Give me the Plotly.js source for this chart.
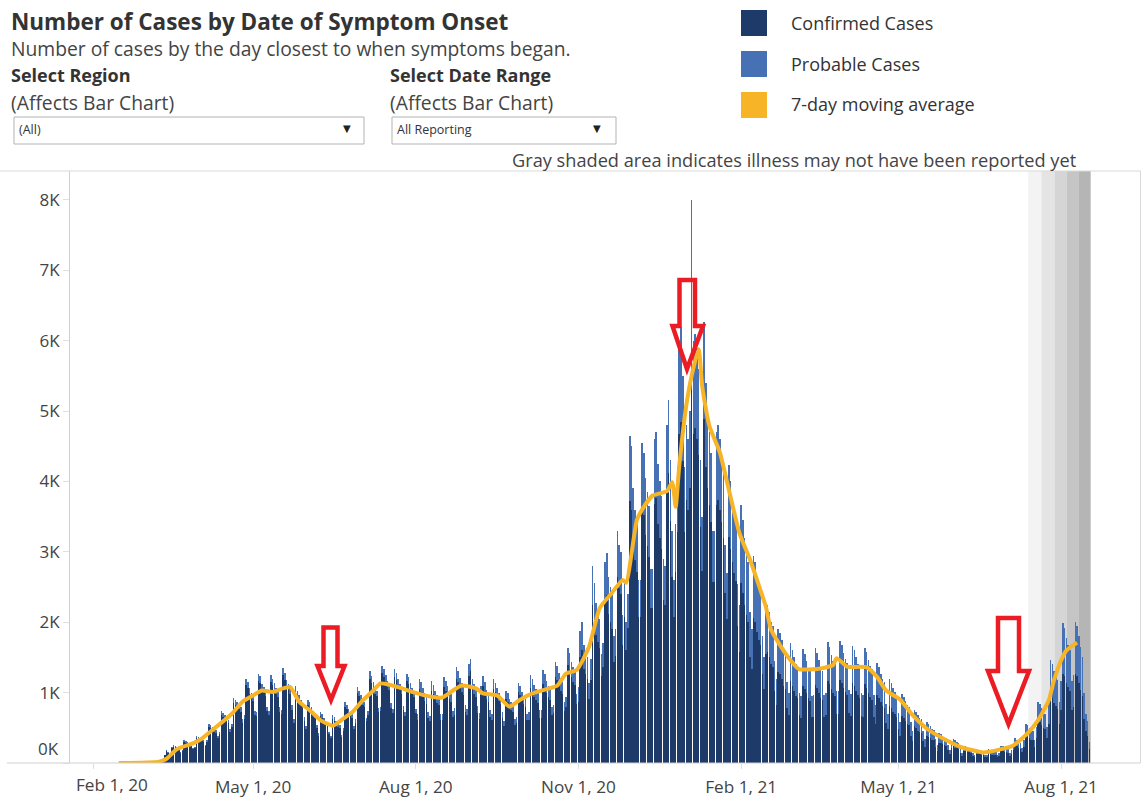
<!DOCTYPE html>
<html>
<head>
<meta charset="utf-8">
<script src="https://cdn.plot.ly/plotly-3.0.1.min.js"></script>
<style>html,body{margin:0;padding:0;background:#fff;}#chart{width:1143px;height:800px;}</style>
</head>
<body>
<div id="chart"></div>
<script>
// ---------------- DATA ----------------
// Daily series start on this date (one value per day, Sun..Sat per row)
const startDate = '2020-03-01';

const confirmed = [
  0,1,2,1,3,2,4,
  5,10,28,56,112,168,140,
  120,212,230,221,212,203,148,
  166,295,286,277,258,249,194,
  212,350,341,332,313,304,240,
  304,516,498,470,442,433,350,
  405,682,654,627,590,562,442,
  516,848,830,802,765,728,571,
  627,1106,1060,977,922,885,682,
  664,1162,1134,1033,996,950,738,
  682,1153,1106,1042,987,940,728,
  701,1245,1180,1088,1033,977,756,
  572,1014,940,885,830,784,599,
  479,830,793,738,682,645,498,
  387,664,636,590,553,526,406,
  350,627,599,553,516,498,369,
  461,793,765,710,664,636,479,
  572,996,950,885,830,793,590,
  682,1199,1143,1060,986,950,719,
  738,1272,1226,1153,1079,1033,784,
  710,1226,1180,1097,1033,987,747,
  673,1171,1125,1042,987,940,710,
  607,1056,1012,942,880,845,634,
  590,1021,977,906,854,818,616,
  616,1074,1030,959,906,862,651,
  686,1197,1144,1065,1003,959,722,
  678,1232,1302,1047,986,942,713,
  625,968,1091,1012,915,871,660,
  607,1047,1003,933,880,836,634,
  519,906,871,801,757,722,546,
  572,1003,959,889,836,801,607,
  612,1063,1020,944,893,850,646,
  646,1122,1071,995,935,893,680,
  706,1224,1173,1088,1029,978,740,
  799,1386,1326,1224,1156,1105,833,
  864,1504,1600,1336,1264,1200,904,
  1184,2240,2048,1824,1720,1640,1240,
  1368,2280,2384,2112,2000,1904,1440,
  1520,2640,2480,2400,1680,2080,1600,
  1920,3720,3600,3120,2880,2720,2080,
  2080,3640,3520,3240,3080,2920,2200,
  2200,3680,3760,3400,3200,3040,2320,
  2240,3840,4120,3440,2640,2080,2720,
  3280,4680,4840,4290,3280,3740,3590,
  3900,5300,4680,4760,4600,4370,3350,
  2730,4890,4210,3900,3670,3430,2570,
  2570,3670,3740,3590,3430,3200,2420,
  2050,3210,3040,2850,2700,2580,1940,
  1580,2560,2420,2240,2100,2000,1500,
  1330,2060,2000,1860,1750,1680,1260,
  1050,1550,1580,1500,1400,1370,1020,
  820,1290,1260,1190,1090,1050,780,
  680,1160,1090,1020,950,920,680,
  640,1100,1050,990,920,880,650,
  650,1110,1060,990,920,890,650,
  680,1170,1120,1050,990,950,690,
  690,1180,1140,1060,1010,970,710,
  670,1130,1090,1020,960,920,670,
  650,1120,1070,1000,940,900,660,
  560,970,920,860,810,780,570,
  480,810,780,730,690,660,480,
  390,670,640,600,560,540,390,
  310,520,500,460,440,420,310,
  230,390,370,350,330,320,230,
  170,290,280,270,250,240,180,
  130,210,240,220,210,200,140,
  100,170,165,155,150,140,100,
  80,135,135,125,115,115,80,
  80,140,130,120,115,110,80,
  100,175,165,155,150,140,100,
  130,180,250,235,220,205,150,
  230,390,380,350,330,320,230,
  350,600,580,540,500,480,350,
  560,950,920,850,810,770,560,
  750,1270,1230,1140,1080,1020,750,
  790,1260,1230,1130,1040,950,630,
  450,390,200
];

const probable = [
  0,0,0,0,0,0,0,
  0,0,2,4,8,12,10,
  10,18,20,19,18,17,12,
  14,25,24,23,22,21,16,
  18,30,29,28,27,26,20,
  26,44,42,40,38,37,30,
  35,58,56,53,50,48,38,
  44,72,70,68,65,62,49,
  53,94,90,83,78,75,58,
  56,98,96,87,84,80,62,
  58,97,94,88,83,80,62,
  59,105,100,92,87,83,64,
  48,86,80,75,70,66,51,
  41,70,67,62,58,55,42,
  33,56,54,50,47,44,34,
  30,53,51,47,44,42,31,
  39,67,65,60,56,54,41,
  48,84,80,75,70,67,50,
  58,101,97,90,84,80,61,
  62,108,104,97,91,87,66,
  60,104,100,93,87,83,63,
  57,99,95,88,83,80,60,
  83,144,138,128,120,115,86,
  80,139,133,124,116,112,84,
  84,146,140,131,124,118,89,
  94,163,156,145,137,131,98,
  92,168,178,143,134,128,97,
  85,132,149,138,125,119,90,
  83,143,137,127,120,114,86,
  71,124,119,109,103,98,74,
  78,137,131,121,114,109,83,
  108,187,180,166,157,150,114,
  114,198,189,175,165,157,120,
  124,216,207,192,181,172,130,
  141,244,234,216,204,195,147,
  216,376,400,334,316,300,226,
  296,560,512,456,430,410,310,
  342,570,596,528,500,476,360,
  380,660,620,600,420,520,400,
  480,930,900,780,720,680,520,
  520,910,880,810,770,730,550,
  550,920,940,850,800,760,580,
  560,960,1030,860,660,520,680,
  920,1320,1360,1210,920,1060,1010,
  1100,2700,1320,1340,1300,1230,950,
  770,1380,1190,1100,1030,970,730,
  730,1030,1060,1010,970,900,680,
  650,1020,960,900,850,820,610,
  670,1100,1030,960,900,850,650,
  570,880,850,790,750,720,540,
  450,670,670,650,600,580,430,
  380,610,590,560,510,500,370,
  320,540,510,480,450,430,320,
  310,520,500,460,430,420,300,
  310,530,500,470,440,420,310,
  320,550,530,490,460,450,330,
  330,560,540,500,470,450,330,
  310,530,510,480,450,440,320,
  310,520,500,470,440,430,310,
  270,450,440,410,380,370,270,
  220,380,360,340,320,310,230,
  190,310,300,280,270,260,190,
  140,240,230,220,200,200,140,
  110,190,180,170,160,150,110,
  80,140,130,120,110,110,80,
  60,90,100,100,90,80,60,
  45,75,70,65,60,60,45,
  35,60,55,50,50,45,35,
  35,55,60,55,50,50,35,
  45,70,70,65,60,60,45,
  50,70,100,95,90,85,60,
  100,170,160,150,140,130,100,
  160,270,260,240,230,220,160,
  300,520,490,460,430,410,300,
  420,720,690,640,600,580,420,
  460,740,720,670,610,550,370,
  250,210,100
];

// 7-day moving average
const maDates = ['2020-02-15','2020-03-09','2020-03-13','2020-03-19','2020-03-28','2020-04-01','2020-04-10','2020-04-19','2020-04-25','2020-05-01','2020-05-06','2020-05-12','2020-05-18','2020-05-22','2020-05-27','2020-06-02','2020-06-08','2020-06-15','2020-06-21','2020-06-26','2020-07-02','2020-07-08','2020-07-12','2020-07-16','2020-07-23','2020-07-30','2020-08-10','2020-08-16','2020-08-22','2020-08-27','2020-09-04','2020-09-08','2020-09-16','2020-09-23','2020-09-29','2020-10-06','2020-10-14','2020-10-20','2020-10-25','2020-10-31','2020-11-07','2020-11-13','2020-11-20','2020-11-26','2020-11-28','2020-12-04','2020-12-07','2020-12-13','2020-12-21','2020-12-24','2020-12-26','2020-12-28','2021-01-01','2021-01-04','2021-01-08','2021-01-10','2021-01-14','2021-01-20','2021-01-25','2021-01-31','2021-02-06','2021-02-10','2021-02-15','2021-02-18','2021-02-26','2021-03-04','2021-03-06','2021-03-17','2021-03-25','2021-03-27','2021-04-02','2021-04-13','2021-04-19','2021-04-24','2021-05-02','2021-05-09','2021-05-17','2021-05-26','2021-06-05','2021-06-18','2021-06-27','2021-07-05','2021-07-13','2021-07-19','2021-07-25','2021-07-28','2021-08-01','2021-08-04','2021-08-10'];
const maValues = [0,20,60,200,280,330,510,700,870,960,1030,1010,1060,1080,870,750,610,530,630,720,890,1030,1130,1120,1070,1010,940,930,1030,1100,1060,990,960,800,900,990,1050,1100,1270,1320,1650,2200,2420,2600,2560,3450,3600,3800,3860,3990,3640,4220,5080,5500,5880,5350,4790,4410,3890,3270,2890,2600,2220,1890,1560,1370,1330,1340,1390,1490,1370,1360,1220,1030,900,680,490,350,230,150,190,250,420,610,890,1180,1460,1600,1710];

// Axis ticks
const xTickVals = ['2020-02-01','2020-05-01','2020-08-01','2020-11-01','2021-02-01','2021-05-01','2021-08-01'];
const xTickText = ['Feb 1, 20','May 1, 20','Aug 1, 20','Nov 1, 20','Feb 1, 21','May 1, 21','Aug 1, 21'];
const yTickVals = [0,1000,2000,3000,4000,5000,6000,7000,8000];
const yTickText = ['0K','1K','2K','3K','4K','5K','6K','7K','8K'];

// Gray "may not be reported yet" weekly bands (edges)
const bandEdges = ['2021-07-13 10:00','2021-07-20 19:00','2021-07-28 05:00','2021-08-04 05:00','2021-08-10 17:00','2021-08-17 17:00'];
const bandColors = ['#f3f3f3','#e4e4e4','#d5d5d5','#c5c5c5','#b5b5b5'];

// ---------------- BUILD ----------------
const dates = [];
{
  const s = new Date(startDate + 'T00:00:00Z');
  for (let i = 0; i < confirmed.length; i++) {
    const d = new Date(s.getTime() + i * 86400000);
    dates.push(d.toISOString().slice(0, 10));
  }
}

const C_CONF = '#1d3a68', C_PROB = '#4672b5', C_MA = '#f6b426', C_RED = '#ec1c24';
const FONT = 'Open Sans, Noto Sans, sans-serif';

// pixel -> paper helpers for decorations (plot area: x 70..1140, y 171..763)
const PL = 70, PW = 1070, PB = 763, PH = 592;
const px = x => (x - PL) / PW;
const py = y => (PB - y) / PH;
const pt = (x, y) => px(x).toFixed(5) + ',' + py(y).toFixed(5);

function arrowPath(a) {
  return 'M' + pt(a.sl, a.top) + ' L' + pt(a.sr, a.top) + ' L' + pt(a.sr, a.sh) + ' L' + pt(a.hr, a.sh) +
    ' L' + pt(a.tx, a.ty) + ' L' + pt(a.hl, a.sh) + ' L' + pt(a.sl, a.sh) + ' Z';
}
const arrows = [
  {sl: 323.5, sr: 337.5, top: 627.5, sh: 666, hl: 317.5, hr: 344.5, tx: 331, ty: 700},
  {sl: 679.5, sr: 695, top: 280, sh: 326, hl: 672.5, hr: 703, tx: 687, ty: 369},
  {sl: 998, sr: 1019, top: 618, sh: 671, hl: 988, hr: 1029, tx: 1008.5, ty: 724}
];

const shapes = [];
// gray bands
for (let i = 0; i < bandColors.length; i++) {
  shapes.push({type: 'rect', layer: 'below', xref: 'x', yref: 'paper', x0: bandEdges[i], x1: bandEdges[i + 1],
    y0: 0, y1: 1, fillcolor: bandColors[i], line: {width: 0}});
}
// frame lines
shapes.push({type: 'line', xref: 'paper', yref: 'paper', x0: px(0), x1: px(1140.5), y0: py(171), y1: py(171), line: {color: '#d9d9d9', width: 1}});
shapes.push({type: 'line', xref: 'paper', yref: 'paper', x0: px(1140.5), x1: px(1140.5), y0: py(171), y1: py(763), line: {color: '#d9d9d9', width: 1}});
shapes.push({type: 'line', xref: 'paper', yref: 'paper', x0: px(7), x1: px(1140.5), y0: py(763), y1: py(763), line: {color: '#d0d0d0', width: 1}});
// dropdown boxes
shapes.push({type: 'rect', xref: 'paper', yref: 'paper', x0: px(14), x1: px(364), y0: py(117), y1: py(144), line: {color: '#b3b3b3', width: 1}, fillcolor: '#ffffff'});
shapes.push({type: 'rect', xref: 'paper', yref: 'paper', x0: px(392), x1: px(616), y0: py(117), y1: py(144), line: {color: '#b3b3b3', width: 1}, fillcolor: '#ffffff'});
// legend swatches
[[C_CONF, 10, 36], [C_PROB, 51, 77], [C_MA, 92, 118]].forEach(s => {
  shapes.push({type: 'rect', xref: 'paper', yref: 'paper', x0: px(741), x1: px(767), y0: py(s[1]), y1: py(s[2]), fillcolor: s[0], line: {width: 0}});
});
// red arrows
arrows.forEach(a => shapes.push({type: 'path', xref: 'paper', yref: 'paper', path: arrowPath(a), line: {color: C_RED, width: 4.5}, layer: 'above'}));

function ann(text, x, y, size, color, opts) {
  return Object.assign({text: text, xref: 'paper', yref: 'paper', x: px(x), y: py(y), xanchor: 'left', yanchor: 'middle',
    showarrow: false, font: {family: FONT, size: size, color: color || '#333333'}}, opts || {});
}
const annotations = [
  ann('<b>Number of Cases by Date of Symptom Onset</b>', 9, 21, 22.5, '#333333'),
  ann('Number of cases by the day closest to when symptoms began.', 9, 48, 19.3, '#444444'),
  ann('<b>Select Region</b>', 9, 75, 18, '#333333'),
  ann('(Affects Bar Chart)', 9, 102, 19.3, '#444444'),
  ann('<b>Select Date Range</b>', 388, 75, 18, '#333333'),
  ann('(Affects Bar Chart)', 388, 102, 19.3, '#444444'),
  ann('(All)', 17, 130, 12.5, '#333333'),
  ann('All Reporting', 395, 130, 12.5, '#333333'),
  ann('▼', 341, 129, 10, '#222222', {font: {family: 'DejaVu Sans', size: 10, color: '#222222'}}),
  ann('▼', 591, 129, 10, '#222222', {font: {family: 'DejaVu Sans', size: 10, color: '#222222'}}),
  ann('Confirmed Cases', 789, 23, 18, '#333333'),
  ann('Probable Cases', 789, 64, 18, '#333333'),
  ann('7-day moving average', 789, 104, 18, '#333333'),
  ann('Gray shaded area indicates illness may not have been reported yet', 1079, 160, 18.2, '#444444', {xanchor: 'right'}),
  ann('0K', 61, 748, 17, '#444444', {xanchor: 'right'}),
  ann('Feb 1, 20', 112, 785, 17.2, '#444444', {xanchor: 'center'})
];

const traces = [
  {type: 'bar', x: dates, y: confirmed, name: 'Confirmed Cases', marker: {color: C_CONF, line: {width: 0}}, hoverinfo: 'skip'},
  {type: 'bar', x: dates, y: probable, name: 'Probable Cases', marker: {color: C_PROB, line: {width: 0}}, hoverinfo: 'skip'},
  {type: 'scatter', mode: 'lines', x: maDates, y: maValues, name: '7-day moving average',
   line: {color: C_MA, width: 4, shape: 'spline', smoothing: 0.5}, hoverinfo: 'skip'}
];

const layout = {
  width: 1143, height: 800,
  margin: {l: 70, r: 2.5, t: 171, b: 37, pad: 0},
  paper_bgcolor: '#ffffff', plot_bgcolor: 'rgba(0,0,0,0)',
  barmode: 'stack', bargap: 0.12,
  showlegend: false,
  font: {family: FONT, color: '#444444'},
  xaxis: {
    type: 'date', range: ['2020-01-18 10:18', '2021-09-14 14:24'],
    tickvals: xTickVals, ticktext: ['', ...xTickText.slice(1)],
    tickfont: {family: FONT, size: 17.2, color: '#444444'},
    ticks: 'outside', ticklen: 5, tickcolor: '#dddddd', ticklabelstandoff: 3,
    showgrid: false, zeroline: false, showline: false, fixedrange: true
  },
  yaxis: {
    range: [0, 8410],
    tickvals: yTickVals, ticktext: ['', ...yTickText.slice(1)],
    tickfont: {family: FONT, size: 17, color: '#444444'},
    ticks: 'outside', ticklen: 6, tickcolor: '#e0e0e0',
    showgrid: false, zeroline: false, showline: true, linecolor: '#d0d0d0', linewidth: 1, fixedrange: true
  },
  shapes: shapes,
  annotations: annotations
};

Plotly.newPlot('chart', traces, layout, {displayModeBar: false, staticPlot: true});
</script>
</body>
</html>
